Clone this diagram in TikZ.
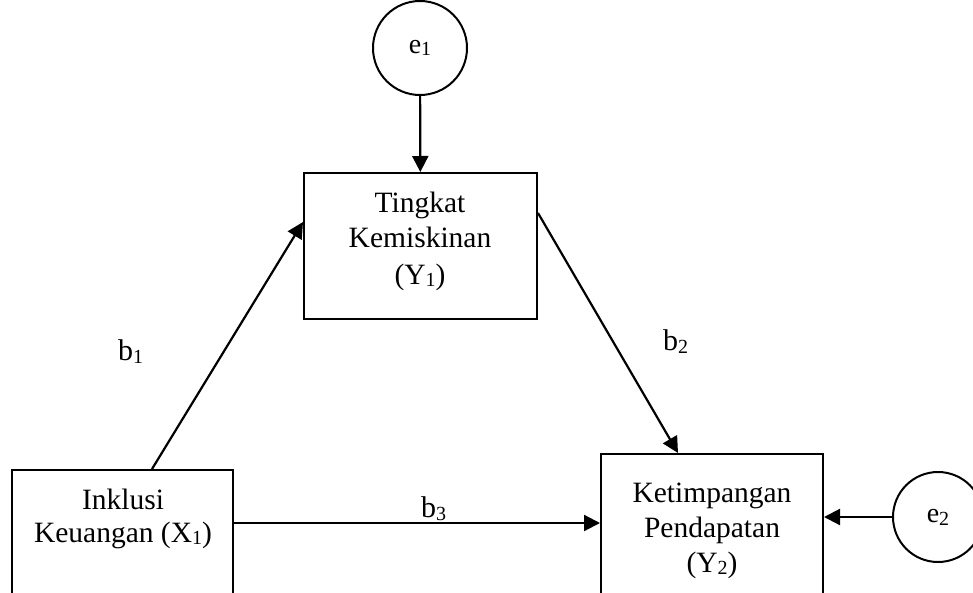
\documentclass[tikz,border=0pt]{standalone}
\usepackage{fontspec}
\setmainfont{Liberation Serif}
\usetikzlibrary{arrows.meta}
\newcommand\sbs[1]{\raisebox{-0.1em}{\fontsize{20}{20}\selectfont #1}}
\begin{document}
\begin{tikzpicture}[x=1pt,y=-1pt,
  box/.style={draw, line width=2pt, inner sep=0pt},
  errc/.style={draw, circle, line width=2pt, inner sep=0pt, font=\fontsize{28}{30}\selectfont},
  arr/.style={line width=2.2pt, -{Triangle[length=16pt,width=16pt]}},
  txt/.style={anchor=base, inner sep=0pt, align=center, font=\fontsize{29.5}{36}\selectfont},
  lbl/.style={anchor=base west, inner sep=0pt, font=\fontsize{30}{36}\selectfont}
]
\useasboundingbox (0,0) rectangle (973,593);
\clip (0,0) rectangle (973,593);
% boxes
\node[box, minimum width=233pt, minimum height=146pt] (y1) at (420.5,246) {};
\node[box, minimum width=221pt, minimum height=170pt] (x1) at (122.5,555) {};
\node[box, minimum width=222pt, minimum height=186pt] (y2) at (712,547) {};
% error circles
\node[errc, minimum size=94pt] (e1) at (420,48) {e\sbs{1}};
\node[errc, minimum size=90pt] (e2) at (938,517) {e\sbs{2}};
% box texts (anchor at last line baseline)
\node[txt] (ty1) at (420,284) {Tingkat\\Kemiskinan\\(Y\sbs{1})};
\node[txt, font=\fontsize{29.5}{33}\selectfont] (tx1) at (123,542) {Inklusi\\Keuangan (X\sbs{1})};
\node[txt, font=\fontsize{29.5}{35}\selectfont] (ty2) at (712,572) {Ketimpangan\\Pendapatan\\(Y\sbs{2})};
% labels
\node[lbl] (b1) at (118,360) {b\sbs{1}};
\node[lbl] (b2) at (663,350) {b\sbs{2}};
\node[lbl] (b3) at (421,517) {b\sbs{3}};
% connectors
\coordinate (h) at (400,523);
\draw[arr] (e1) -- (y1);
\draw[arr] ([xshift=29.5pt]x1.north) -- ([yshift=24pt]y1.west);
\draw[arr] ([yshift=33pt]y1.east) -- ([xshift=-34pt]y2.north);
\draw[arr] (x1.east |- h) -- (y2.west |- h);
\draw[arr] (e2) -- (y2.east |- e2);
\end{tikzpicture}
\end{document}
